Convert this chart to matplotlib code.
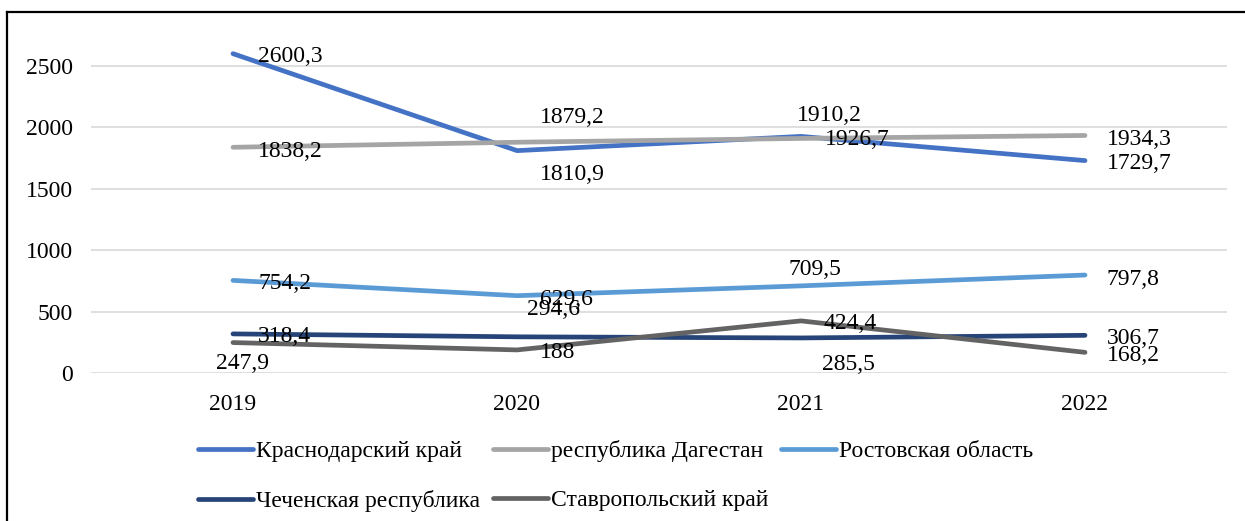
import matplotlib
matplotlib.use("Agg")
import matplotlib.pyplot as plt
from matplotlib.lines import Line2D

plt.rcParams['font.family'] = ['Liberation Serif', 'DejaVu Serif']

years = ["2019", "2020", "2021", "2022"]
krasnodar = [2600.3, 1810.9, 1926.7, 1729.7]
dagestan = [1838.2, 1879.2, 1910.2, 1934.3]
rostov = [754.2, 629.6, 709.5, 797.8]
chechnya = [318.4, 294.6, 285.5, 306.7]
stavropol = [247.9, 188.0, 424.4, 168.2]

names = ["Краснодарский край", "республика Дагестан", "Ростовская область",
         "Чеченская республика", "Ставропольский край"]
series = [krasnodar, dagestan, rostov, chechnya, stavropol]
colors = ["#4472C4", "#A5A5A5", "#5B9BD5", "#264478", "#636363"]

# label offsets in pixels (dx to left edge, dy downward)
offsets = [
    [(25, 1), (23, 22), (24, 1), (22, 1)],
    [(25, 2), (23, -27), (-4, -25), (22, 2)],
    [(25, 1), (23, 2), (-12, -18), (22, 2)],
    [(25, 1), (10, -29), (21, 25), (22, 1)],
    [(-17, 19), (23, 1), (23, 1), (22, 1)],
]

W, H = 1245, 521
fig = plt.figure(figsize=(W / 100, H / 100), dpi=100)
ax = fig.add_axes([91 / W, 1 - 373 / H, (1227 - 91) / W, (373 - 15) / H])

x = list(range(len(years)))
handles = []
for s, name, c in zip(series, names, colors):
    h, = ax.plot(x, s, color=c, lw=3.4, solid_capstyle='round',
                 solid_joinstyle='round', label=name, zorder=3)
    handles.append(h)

fs = 17
for s, offs in zip(series, offsets):
    for xi, v, (dx, dy) in zip(x, s, offs):
        txt = f"{v:g}".replace(".", ",")
        ax.annotate(txt, (xi, v), xytext=(dx, -(dy + 2)),
                    textcoords='offset pixels', ha='left', va='center',
                    fontsize=fs, color='black', zorder=5)

ax.set_xlim(-0.5, len(years) - 0.5)
ymax = (373 - 15) / (307 / 2500)
ax.set_ylim(0, ymax)
ax.set_yticks([0, 500, 1000, 1500, 2000, 2500])
ax.set_xticks(x)
ax.set_xticklabels(years)
ax.tick_params(axis='y', length=0, pad=13, labelsize=fs)
ax.tick_params(axis='x', length=0, pad=15, labelsize=fs)
ax.grid(axis='y', color='#D9D9D9', lw=1.2, zorder=0)
for sp in ax.spines.values():
    sp.set_visible(False)

order = [0, 3, 1, 4, 2]
leg = fig.legend([handles[i] for i in order], [names[i] for i in order],
                 ncol=3, loc='upper left',
                 bbox_to_anchor=(198 / W, 1 - 440 / H),
                 frameon=False, fontsize=fs, handlelength=2.33,
                 handletextpad=0.13, columnspacing=0.53, labelspacing=1.18,
                 borderaxespad=0, borderpad=0)

# outer border (top and left visible)
fig.add_artist(Line2D([7 / W, 7 / W], [0, 1 - 12 / H], transform=fig.transFigure,
                      color='black', lw=1.6))
fig.add_artist(Line2D([7 / W, 1], [1 - 12 / H, 1 - 12 / H], transform=fig.transFigure,
                      color='black', lw=1.6))

fig.savefig("out.png", dpi=100)
